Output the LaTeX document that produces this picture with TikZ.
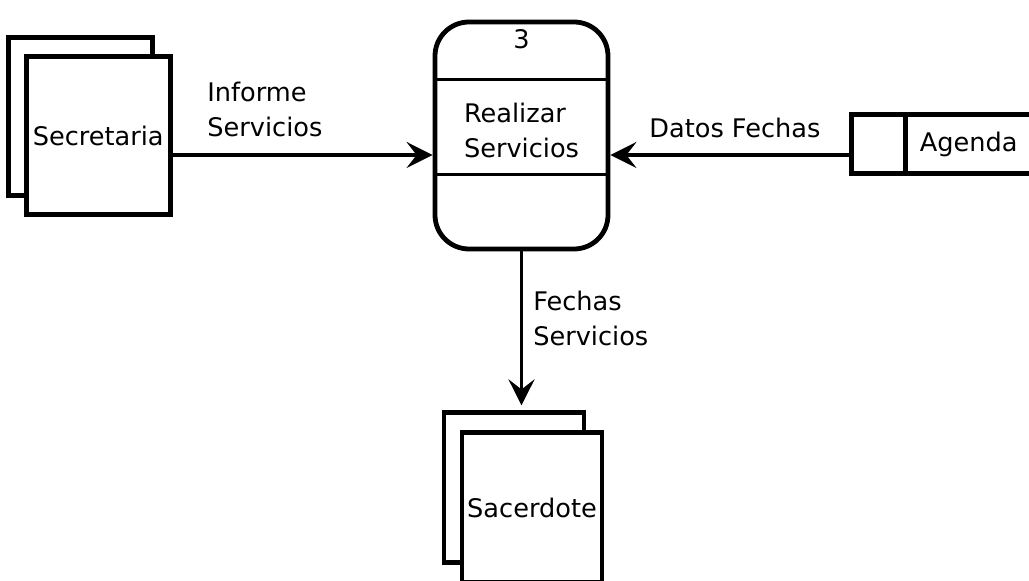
\documentclass[tikz,border=0pt]{standalone}
\usepackage{fontspec}
\setmainfont{DejaVu Sans}
\usetikzlibrary{positioning,arrows.meta,shadows}
\tikzset{
  entity/.style={rectangle, draw, line width=2.4pt, fill=white, minimum width=72pt, minimum height=79pt, inner sep=0pt,
                 copy shadow={shadow xshift=-9pt, shadow yshift=#1, draw, fill=white, line width=2.4pt}},
  entity/.default=9.5pt,
  process/.style={rectangle, draw, line width=2.4pt, rounded corners=17pt, minimum width=86.5pt, minimum height=113.5pt},
  store/.style={rectangle, minimum width=63pt, minimum height=29pt, inner sep=0pt},
  flow/.style={-{Stealth[length=13pt, width=13pt, inset=5pt]}, line width=1.8pt},
  lbl/.style={inner sep=0pt, align=left},
}

\begin{document}
\begin{tikzpicture}[x=0.5pt, y=-0.5pt, every node/.style={font=\fontsize{12.8}{17.5}\selectfont}]
  \useasboundingbox (0,0) rectangle (1029,581);

  % process in the middle
  \node[process] (proc) at (521.5,135.5) {};
  \draw[line width=1.8pt] ([yshift=-30pt]proc.north west) -- ([yshift=-30pt]proc.north east);
  \draw[line width=1.8pt] ([yshift=-77.5pt]proc.north west) -- ([yshift=-77.5pt]proc.north east);
  \node (procid) at ([yshift=-10pt]proc.north) {3};
  \node[align=left] (procname) at ([yshift=2.75pt]proc.center) {Realizar\\Servicios};

  % entities and store
  \node[entity] (sec) [left=130pt of proc] {Secretaria};
  \node[entity=10pt, minimum width=70pt, minimum height=75pt] (sac) [below=89.5pt of proc, xshift=5.25pt] {Sacerdote};
  \node[store] (agenda) [right=147.5pt of proc, yshift=-4.25pt] {Agenda};
  \draw[line width=2.4pt] (agenda.north east) -- (agenda.north west) -- ++(-27pt,0) |- (agenda.south east);
  \draw[line width=2.4pt] (agenda.north west) -- (agenda.south west);

  \coordinate (agin) at ([xshift=-27pt]agenda.west);
  \coordinate (inL) at ([yshift=-9.75pt]proc.west);
  \coordinate (inR) at ([yshift=-9.75pt]proc.east);
  \coordinate (sactop) at ([yshift=12.5pt]sac.north);

  % flows
  \draw[flow] (sec.east |- inL) -- (inL) node[lbl, pos=0, anchor=south west, xshift=16.5pt, yshift=8pt] {Informe\\Servicios};
  \draw[flow] (agin |- inR) -- (inR) node[lbl, midway, anchor=south, xshift=2pt, yshift=7.5pt] {Datos Fechas};
  \draw[flow] (proc.south) -- (proc.south |- sactop) node[lbl, midway, anchor=west, xshift=5pt, yshift=4.75pt] {Fechas\\Servicios};

\end{tikzpicture}
\end{document}
